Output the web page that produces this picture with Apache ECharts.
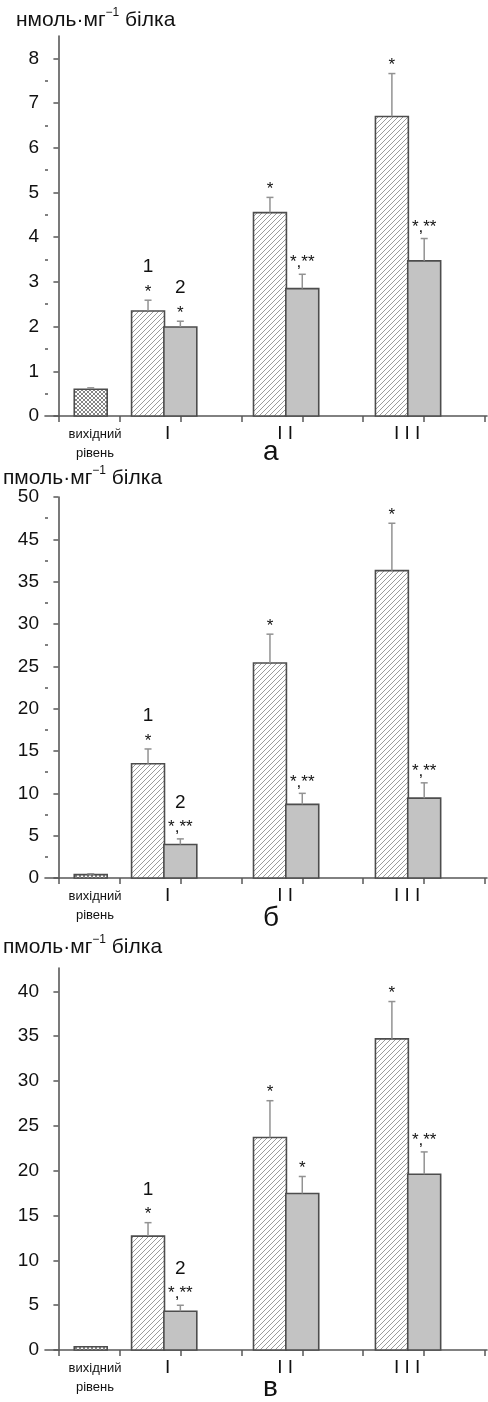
<!DOCTYPE html>
<html>
<head>
<meta charset="utf-8">
<script src="https://cdn.jsdelivr.net/npm/echarts@6/dist/echarts.min.js"></script>
<style>
  html, body { margin: 0; padding: 0; background: #fff; }
  #chart { width: 488px; height: 1402px; }
</style>
</head>
<body>
<div id="chart"></div>
<script>
// ---- categories ----
const groupLabels = ['I', 'I I', 'I I I'];
const baselineLabel = ['вихідний', 'рівень'];
const panelLetters = ['а', 'б', 'в'];
const unitPrefixes = ['нмоль·мг', 'пмоль·мг', 'пмоль·мг'];
const seriesNumbers = ['1', '2'];

// ---- panel а ----
const aBaseline = [0.60, 0.03];            // mean, error
const aSeries1 = [2.35, 4.55, 6.70];
const aSeries1Err = [0.24, 0.34, 0.96];
const aSeries2 = [1.99, 2.85, 3.47];
const aSeries2Err = [0.13, 0.32, 0.50];
const aSig1 = ['*', '*', '*'];
const aSig2 = ['*', '*,**', '*,**'];
const aTickLabels = ['0', '1', '2', '3', '4', '5', '6', '7', '8'];

// ---- panel б ----
const bBaseline = [0.40, 0.10];
const bSeries1 = [13.5, 25.4, 36.3];
const bSeries1Err = [1.74, 3.40, 5.60];
const bSeries2 = [3.95, 8.70, 9.43];
const bSeries2Err = [0.67, 1.30, 1.81];
const bSig1 = ['*', '*', '*'];
const bSig2 = ['*,**', '*,**', '*,**'];
const bTickLabels = ['0', '5', '10', '15', '20', '25', '30', '35', '45', '50'];

// ---- panel в ----
const cBaseline = [0.37, 0.0];
const cSeries1 = [12.7, 23.7, 34.7];
const cSeries1Err = [1.50, 4.10, 4.16];
const cSeries2 = [4.32, 17.45, 19.6];
const cSeries2Err = [0.67, 1.90, 2.49];
const cSig1 = ['*', '*', '*'];
const cSig2 = ['*,**', '*', '*,**'];
const cTickLabels = ['0', '5', '10', '15', '20', '25', '30', '35', '40'];

// ---- layout (x measured in tick spacings) ----
const X_MIN = -0.22, X_MAX = 7.03;
const BAR_W = 0.54;
const BASE_X = 0.53;
const HATCH_X = [1.47, 3.47, 5.47];
const GRAY_X = [2.0, 4.0, 6.0];
const GROUP_LABEL_X = [1.79, 3.72, 5.72];
const BASE_LABEL_X = 0.6;
const FONT = '"Liberation Sans", Arial, sans-serif';
const AXIS_COLOR = '#585858';

function makePattern(cross, size, color) {
  const c = document.createElement('canvas');
  c.width = c.height = size;
  const g = c.getContext('2d');
  g.fillStyle = '#fff';
  g.fillRect(0, 0, size, size);
  g.strokeStyle = color;
  g.lineWidth = 1;
  g.beginPath();
  g.moveTo(0, size); g.lineTo(size, 0);
  g.moveTo(-1, 1); g.lineTo(1, -1);
  g.moveTo(size - 1, size + 1); g.lineTo(size + 1, size - 1);
  if (cross) {
    g.moveTo(0, 0); g.lineTo(size, size);
    g.moveTo(-1, size - 1); g.lineTo(1, size + 1);
    g.moveTo(size - 1, -1); g.lineTo(size + 1, 1);
  }
  g.stroke();
  return { image: c, repeat: 'repeat' };
}
const hatchFill = makePattern(false, 5, '#9c9c9c');
const crossFill = makePattern(true, 4, '#858585');
const grayFill = '#c3c3c3';

const panels = [
  { top: 36, height: 380, max: 8.5, step: 1, minor: true, ticks: aTickLabels,
    base: aBaseline, s1: aSeries1, e1: aSeries1Err, s2: aSeries2, e2: aSeries2Err, sig1: aSig1, sig2: aSig2,
    unitY: 20, unitX: 16, letterY: 455 },
  { top: 497, height: 381, max: 45, step: 5, minor: true, ticks: bTickLabels,
    base: bBaseline, s1: bSeries1, e1: bSeries1Err, s2: bSeries2, e2: bSeries2Err, sig1: bSig1, sig2: bSig2,
    unitY: 478, unitX: 3, letterY: 921 },
  { top: 968, height: 382, max: 42.6, step: 5, minor: false, ticks: cTickLabels,
    base: cBaseline, s1: cSeries1, e1: cSeries1Err, s2: cSeries2, e2: cSeries2Err, sig1: cSig1, sig2: cSig2,
    unitY: 947, unitX: 3, letterY: 1391 }
];

const grid = [], xAxis = [], yAxis = [], series = [], graphic = [];

panels.forEach((p, i) => {
  grid.push({ left: 45, right: 1, top: p.top, height: p.height });

  const tickVals = [];
  for (let k = 0; k <= 7; k++) tickVals.push(k);
  xAxis.push({
    gridIndex: i, type: 'value', min: X_MIN, max: X_MAX,
    axisLine: { show: true, onZero: false, lineStyle: { color: AXIS_COLOR, width: 1.6 } },
    axisTick: { show: true, length: 6, customValues: tickVals, lineStyle: { color: AXIS_COLOR, width: 1.5 } },
    axisLabel: { show: false }, splitLine: { show: false }
  });

  const majors = p.ticks.map((_, k) => k * p.step);
  const yIndex = yAxis.length;
  yAxis.push({
    gridIndex: i, type: 'value', min: 0, max: p.max,
    axisLine: { show: true, lineStyle: { color: AXIS_COLOR, width: 1.6 } },
    axisTick: { show: true, length: 5, customValues: majors, lineStyle: { color: AXIS_COLOR, width: 1.5 } },
    axisLabel: {
      customValues: majors, margin: 6, fontSize: 19, fontFamily: FONT, color: '#111',
      formatter: v => p.ticks[Math.round(v / p.step)]
    },
    splitLine: { show: false }
  });
  if (p.minor) {
    const minors = majors.slice(0, -1).map(v => v + p.step / 2);
    yAxis.push({
      gridIndex: i, type: 'value', min: 0, max: p.max, position: 'left',
      axisLine: { show: false },
      axisTick: { show: true, inside: true, length: 3, customValues: minors, lineStyle: { color: AXIS_COLOR, width: 1.5 } },
      axisLabel: { show: false }, splitLine: { show: false }
    });
  }

  // bar rows: [x, value, error, fill, sig, num]
  const rows = [[BASE_X, p.base[0], p.base[1], crossFill, '', '']];
  for (let g = 0; g < 3; g++) {
    rows.push([HATCH_X[g], p.s1[g], p.e1[g], hatchFill, p.sig1[g], g === 0 ? seriesNumbers[0] : '']);
    rows.push([GRAY_X[g], p.s2[g], p.e2[g], grayFill, p.sig2[g], g === 0 ? seriesNumbers[1] : '']);
  }

  series.push({
    type: 'custom', xAxisIndex: i, yAxisIndex: yIndex,
    data: rows.map(r => [r[0], r[1], r[2]]),
    renderItem: (params, api) => {
      const r = rows[params.dataIndex];
      const x = api.value(0), v = api.value(1), e = api.value(2);
      const p0 = api.coord([x, 0]);
      const p1 = api.coord([x, v]);
      const pe = api.coord([x, v + e]);
      const w = api.size([BAR_W, 0])[0];
      const children = [{
        type: 'rect',
        shape: { x: p0[0] - w / 2, y: p1[1], width: w, height: p0[1] - p1[1] },
        style: { fill: r[3], stroke: '#4d4d4d', lineWidth: 1.6 }
      }];
      if (e > 0) {
        children.push({
          type: 'line', shape: { x1: p1[0], y1: p1[1], x2: pe[0], y2: pe[1] },
          style: { stroke: '#929292', lineWidth: 1.5 }
        });
        children.push({
          type: 'line', shape: { x1: pe[0] - 3.5, y1: pe[1], x2: pe[0] + 3.5, y2: pe[1] },
          style: { stroke: '#929292', lineWidth: 1.5 }
        });
      }
      // multi-mark labels carry a comma below the stars, so they sit a little higher
      const lift = r[4].indexOf(',') >= 0 ? 11.5 : 8;
      if (r[4]) {
        children.push({
          type: 'text',
          style: { text: r[4], x: pe[0], y: pe[1] - lift, align: 'center', verticalAlign: 'middle',
                   fontSize: 17, fontFamily: FONT, fill: '#111' }
        });
      }
      if (r[5]) {
        children.push({
          type: 'text',
          style: { text: r[5], x: pe[0], y: pe[1] - lift - 25, align: 'center', verticalAlign: 'middle',
                   fontSize: 19, fontFamily: FONT, fill: '#111' }
        });
      }
      return { type: 'group', children };
    },
    silent: true, animation: false
  });

  // category labels under the axis
  const labelRows = [[BASE_LABEL_X, baselineLabel.join('\n'), 0]]
    .concat(groupLabels.map((t, g) => [GROUP_LABEL_X[g], t, 1]));
  series.push({
    type: 'custom', xAxisIndex: i, yAxisIndex: yIndex,
    data: labelRows.map(r => [r[0], 0]),
    renderItem: (params, api) => {
      const r = labelRows[params.dataIndex];
      const pt = api.coord([api.value(0), 0]);
      if (r[2] === 0) {
        return { type: 'text', style: { text: r[1], x: pt[0], y: pt[1] + 9, align: 'center', verticalAlign: 'top',
          fontSize: 13, lineHeight: 19, fontFamily: FONT, fill: '#111' } };
      }
      return { type: 'text', style: { text: r[1], x: pt[0], y: pt[1] + 8, align: 'center', verticalAlign: 'top',
        fontSize: 19, fontFamily: FONT, fill: '#111' } };
    },
    silent: true, animation: false
  });

  graphic.push({
    type: 'text', left: p.unitX, top: p.unitY - 13,
    style: {
      text: '{t|' + unitPrefixes[i] + '}{s|−1}{t| білка}',
      rich: {
        t: { fontSize: 21, fontFamily: FONT, fill: '#111', lineHeight: 26 },
        s: { fontSize: 12, fontFamily: FONT, fill: '#111', lineHeight: 14, verticalAlign: 'top' }
      }
    }
  });
  graphic.push({
    type: 'text', left: 263, top: p.letterY - 17,
    style: { text: panelLetters[i], fontSize: 28, fontFamily: FONT, fill: '#111' }
  });
});

const chart = echarts.init(document.getElementById('chart'), null, { renderer: 'canvas' });
chart.setOption({ animation: false, grid, xAxis, yAxis, series, graphic });
</script>
</body>
</html>
